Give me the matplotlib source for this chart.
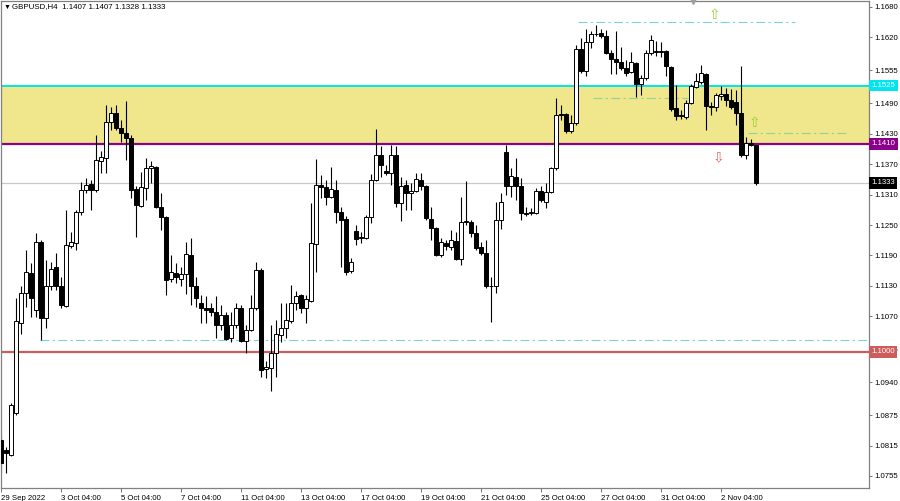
import matplotlib
matplotlib.use("Agg")
import matplotlib.pyplot as plt
import matplotlib.transforms as mtransforms

plt.rcParams['font.family'] = ['Liberation Sans', 'DejaVu Sans']

# ---------------- data (GBPUSD H4) ----------------
opens = [1.0826, 1.0807, 1.0797, 1.0879, 1.1056, 1.1115, 1.1156, 1.1083, 1.1217, 1.1066,
         1.1129, 1.1168, 1.1129, 1.1090, 1.1209, 1.1215, 1.1275, 1.1319, 1.1330, 1.1319,
         1.1377, 1.1382, 1.1453, 1.1470, 1.1442, 1.1432, 1.1422, 1.1321, 1.1288, 1.1322,
         1.1362, 1.1365, 1.1286, 1.1265, 1.1144, 1.1156, 1.1144, 1.1154, 1.1191, 1.1130,
         1.1096, 1.1086, 1.1086, 1.1079, 1.1053, 1.1073, 1.1027, 1.1053, 1.1086, 1.1022,
         1.1043, 1.1086, 1.1161, 1.0966, 1.0968, 1.0997, 1.1034, 1.1047, 1.1060, 1.1096,
         1.1111, 1.1086, 1.1101, 1.1212, 1.1328, 1.1325, 1.1306, 1.1319, 1.1275, 1.1261,
         1.1160, 1.1239, 1.1224, 1.1224, 1.1265, 1.1338, 1.1388, 1.1357, 1.1352, 1.1388,
         1.1293, 1.1328, 1.1313, 1.1318, 1.1339, 1.1326, 1.1261, 1.1245, 1.1191, 1.1214,
         1.1207, 1.1219, 1.1182, 1.1255, 1.1255, 1.1234, 1.1206, 1.1194, 1.1129, 1.1129,
         1.1260, 1.1393, 1.1326, 1.1345, 1.1326, 1.1274, 1.1273, 1.1273, 1.1318, 1.1296,
         1.1316, 1.1362, 1.1468, 1.1468, 1.1436, 1.1451, 1.1598, 1.1554, 1.1610, 1.1626,
         1.1628, 1.1623, 1.1590, 1.1577, 1.1572, 1.1559, 1.1552, 1.1570, 1.1528, 1.1539,
         1.1589, 1.1593, 1.1592, 1.1593, 1.1562, 1.1480, 1.1467, 1.1464, 1.1490, 1.1523,
         1.1533, 1.1548, 1.1485, 1.1482, 1.1505, 1.1508, 1.1497, 1.1493, 1.1470, 1.1388,
         1.1411, 1.1407]
highs = [1.0833, 1.0813, 1.0899, 1.1106, 1.1129, 1.1201, 1.1175, 1.1234, 1.1221, 1.1181,
         1.1178, 1.1194, 1.1148, 1.1280, 1.1237, 1.1280, 1.1334, 1.1342, 1.1339, 1.1428,
         1.1395, 1.1487, 1.1483, 1.1487, 1.1457, 1.1495, 1.1428, 1.1326, 1.1355, 1.1382,
         1.1377, 1.1366, 1.1313, 1.1267, 1.1191, 1.1175, 1.1168, 1.1217, 1.1224, 1.1148,
         1.1112, 1.1109, 1.1096, 1.1109, 1.1093, 1.1079, 1.1079, 1.1096, 1.1093, 1.1053,
         1.1112, 1.1178, 1.1165, 1.0981, 1.1053, 1.1063, 1.1096, 1.1096, 1.1132, 1.1119,
         1.1114, 1.1112, 1.1293, 1.1380, 1.1349, 1.1339, 1.1365, 1.1339, 1.1286, 1.1267,
         1.1185, 1.1250, 1.1237, 1.1270, 1.1351, 1.1439, 1.1405, 1.1368, 1.1408, 1.1405,
         1.1345, 1.1339, 1.1332, 1.1352, 1.1352, 1.1329, 1.1286, 1.1247, 1.1224, 1.1220,
         1.1240, 1.1237, 1.1306, 1.1336, 1.1260, 1.1250, 1.1217, 1.1220, 1.1148, 1.1296,
         1.1313, 1.1408, 1.1362, 1.1382, 1.1342, 1.1286, 1.1283, 1.1322, 1.1326, 1.1332,
         1.1365, 1.1500, 1.1487, 1.1470, 1.1467, 1.1605, 1.1618, 1.1636, 1.1633, 1.1645,
         1.1636, 1.1635, 1.1595, 1.1633, 1.1602, 1.1576, 1.1592, 1.1572, 1.1546, 1.1595,
         1.1625, 1.1612, 1.1610, 1.1595, 1.1564, 1.1526, 1.1477, 1.1497, 1.1529, 1.1550,
         1.1566, 1.1549, 1.1493, 1.1510, 1.1524, 1.1521, 1.1518, 1.1516, 1.1564, 1.1423,
         1.1419, 1.1407]
lows = [1.0761, 1.0761, 1.0794, 1.0876, 1.1036, 1.1089, 1.1069, 1.1069, 1.1024, 1.1046,
        1.1122, 1.1122, 1.1086, 1.1089, 1.1204, 1.1201, 1.1270, 1.1313, 1.1280, 1.1316,
        1.1352, 1.1352, 1.1437, 1.1437, 1.1414, 1.1378, 1.1303, 1.1227, 1.1286, 1.1299,
        1.1332, 1.1283, 1.1240, 1.1112, 1.1138, 1.1135, 1.1129, 1.1114, 1.1093, 1.1089,
        1.1056, 1.1056, 1.1070, 1.1027, 1.1043, 1.1024, 1.1020, 1.1046, 1.1020, 1.0997,
        1.1040, 1.1083, 1.0951, 1.0948, 1.0922, 1.0951, 1.1020, 1.1027, 1.1056, 1.1083,
        1.1076, 1.1056, 1.1099, 1.1158, 1.1303, 1.1290, 1.1303, 1.1254, 1.1168, 1.1152,
        1.1155, 1.1211, 1.1214, 1.1222, 1.1254, 1.1336, 1.1345, 1.1349, 1.1329, 1.1286,
        1.1257, 1.1280, 1.1280, 1.1316, 1.1319, 1.1260, 1.1220, 1.1188, 1.1186, 1.1201,
        1.1201, 1.1181, 1.1171, 1.1250, 1.1227, 1.1201, 1.1191, 1.1125, 1.1059, 1.1115,
        1.1243, 1.1309, 1.1306, 1.1299, 1.1260, 1.1267, 1.1270, 1.1272, 1.1296, 1.1283,
        1.1313, 1.1358, 1.1457, 1.1431, 1.1431, 1.1447, 1.1549, 1.1544, 1.1599, 1.1622,
        1.1618, 1.1587, 1.1548, 1.1548, 1.1556, 1.1544, 1.1549, 1.1503, 1.1506, 1.1536,
        1.1585, 1.1583, 1.1582, 1.1543, 1.1474, 1.1457, 1.1460, 1.1460, 1.1489, 1.1520,
        1.1529, 1.1437, 1.1467, 1.1474, 1.1497, 1.1485, 1.1478, 1.1447, 1.1385, 1.1381,
        1.1405, 1.1328]
closes = [1.0780, 1.0800, 1.0895, 1.1060, 1.1115, 1.1158, 1.1106, 1.1217, 1.1066, 1.1129,
          1.1163, 1.1129, 1.1092, 1.1211, 1.1217, 1.1275, 1.1319, 1.1328, 1.1319, 1.1378,
          1.1385, 1.1453, 1.1470, 1.1441, 1.1432, 1.1422, 1.1320, 1.1290, 1.1324, 1.1363,
          1.1366, 1.1286, 1.1265, 1.1142, 1.1158, 1.1147, 1.1154, 1.1192, 1.1130, 1.1106,
          1.1086, 1.1083, 1.1079, 1.1053, 1.1073, 1.1025, 1.1053, 1.1086, 1.1022, 1.1043,
          1.1086, 1.1161, 1.0964, 1.0970, 1.0997, 1.1035, 1.1047, 1.1062, 1.1097, 1.1109,
          1.1086, 1.1104, 1.1214, 1.1328, 1.1325, 1.1306, 1.1321, 1.1275, 1.1260, 1.1158,
          1.1177, 1.1223, 1.1226, 1.1265, 1.1338, 1.1388, 1.1368, 1.1352, 1.1388, 1.1293,
          1.1326, 1.1313, 1.1318, 1.1340, 1.1326, 1.1263, 1.1245, 1.1191, 1.1217, 1.1209,
          1.1220, 1.1182, 1.1255, 1.1257, 1.1234, 1.1204, 1.1194, 1.1129, 1.1130, 1.1260,
          1.1296, 1.1326, 1.1347, 1.1326, 1.1274, 1.1272, 1.1275, 1.1318, 1.1299, 1.1316,
          1.1362, 1.1467, 1.1467, 1.1436, 1.1452, 1.1598, 1.1554, 1.1610, 1.1626, 1.1627,
          1.1623, 1.1590, 1.1577, 1.1572, 1.1559, 1.1550, 1.1572, 1.1528, 1.1539, 1.1589,
          1.1614, 1.1592, 1.1594, 1.1564, 1.1478, 1.1465, 1.1465, 1.1491, 1.1524, 1.1534,
          1.1549, 1.1485, 1.1482, 1.1506, 1.1508, 1.1497, 1.1482, 1.1470, 1.1388, 1.1411,
          1.1407, 1.1333]

x_tick_bars = [0, 12, 24, 36, 48, 60, 72, 84, 96, 108, 120, 132, 144]
x_tick_labels = ['29 Sep 2022', '3 Oct 04:00', '5 Oct 04:00', '7 Oct 04:00', '11 Oct 04:00',
                 '13 Oct 04:00', '17 Oct 04:00', '19 Oct 04:00', '21 Oct 04:00',
                 '25 Oct 04:00', '27 Oct 04:00', '31 Oct 04:00', '2 Nov 04:00']
y_ticks = [1.1680, 1.1620, 1.1555, 1.1490, 1.1430, 1.1370, 1.1310, 1.1250, 1.1190,
           1.1130, 1.1070, 1.1005, 1.0940, 1.0875, 1.0815, 1.0755]

zone_low, zone_high = 1.1410, 1.1525
support_level = 1.1000
bid_price = 1.1333
# dash-dot levels: (price, start bar, end bar, colour)
dash_levels = [(1.1023, 7.8, 173.6, '#7fd0d0'),
               (1.1651, 115.4, 158.8, '#7fd0d0'),
               (1.1501, 118.4, 137.4, '#8fd49a'),
               (1.1431, 149.4, 169.4, '#8fd49a')]
arrows = [(142.6, 1.1664, '⇧', '#9acd32'),
          (150.6, 1.1451, '⇧', '#9acd32'),
          (143.4, 1.1384, '⇩', '#f06060')]

# ---------------- figure ----------------
W, H = 900, 501
fig = plt.figure(figsize=(W / 100, H / 100), dpi=100)
ax = fig.add_axes([1 / W, 13 / H, 868 / W, 487 / H])
ax.set_xlim(0, 868 / 5)
ax.set_ylim(1.07313, 1.16918)

ax.axhspan(zone_low, zone_high, color='#F0E68C', zorder=0, lw=0)
ax.axhline(zone_high, color='#00E5EE', lw=1.4, zorder=1)
ax.axhline(zone_low, color='#8B008B', lw=1.6, zorder=1)
ax.axhline(support_level, color='#CD5C5C', lw=1.6, zorder=1)
ax.axhline(bid_price, color='#C8C8C8', lw=0.9, zorder=1)

for p, x0, x1, c in dash_levels:
    ax.plot([x0, x1], [p, p], color=c, lw=0.8, dashes=(8, 3, 2, 3), zorder=1)

bw = 0.62
for i, (o, h, l, c) in enumerate(zip(opens, highs, lows, closes)):
    ax.vlines(i, l, h, color='black', lw=0.8, zorder=2)
    bottom = min(o, c)
    height = max(abs(c - o), 0.00012)
    fc = 'black' if c < o else 'white'
    ax.bar(i, height, bottom=bottom, width=bw, facecolor=fc, edgecolor='black',
           lw=0.7, zorder=3)

for x, p, s, c in arrows:
    ax.text(x, p, s, color=c, fontsize=10, ha='center', va='center',
            family=['DejaVu Sans'], zorder=4)

# small marker at the top
ax.plot([138.4], [1.16918], marker='v', color='#a0a0a0', ms=5, clip_on=False, zorder=5)

# axes styling
for s in ax.spines.values():
    s.set_color('#808080')
    s.set_linewidth(0.9)
ax.yaxis.tick_right()
ax.set_yticks(y_ticks)
ax.set_yticklabels([f'{v:.4f}' for v in y_ticks])
ax.tick_params(axis='y', labelsize=5.6, length=2.5, width=0.6, color='#606060', pad=1)
ax.set_xticks(x_tick_bars)
ax.set_xticklabels(x_tick_labels, ha='left')
ax.tick_params(axis='x', labelsize=5.6, length=3, width=0.6, color='#606060', pad=2)

# price boxes on the right
trans = mtransforms.blended_transform_factory(ax.transAxes, ax.transData)
for p, c in [(zone_high, '#00E5EE'), (zone_low, '#8B008B'), (bid_price, '#000000'),
             (support_level, '#CD5C5C')]:
    ax.text(1.0 + 2.5 / 868, p, f'{p:.4f}', transform=trans, fontsize=5.6, color='white',
            ha='left', va='center', zorder=6, clip_on=False,
            bbox=dict(boxstyle='square,pad=0.3', fc=c, ec='none'))

fig.text(4 / W, 1 - 7 / H, '▼', fontsize=5, va='center', ha='left', color='black')
fig.text(12 / W, 1 - 7 / H, 'GBPUSD,H4  1.1407 1.1407 1.1328 1.1333', fontsize=5.7,
         va='center', ha='left', color='black')

fig.savefig('out.png', dpi=100)
